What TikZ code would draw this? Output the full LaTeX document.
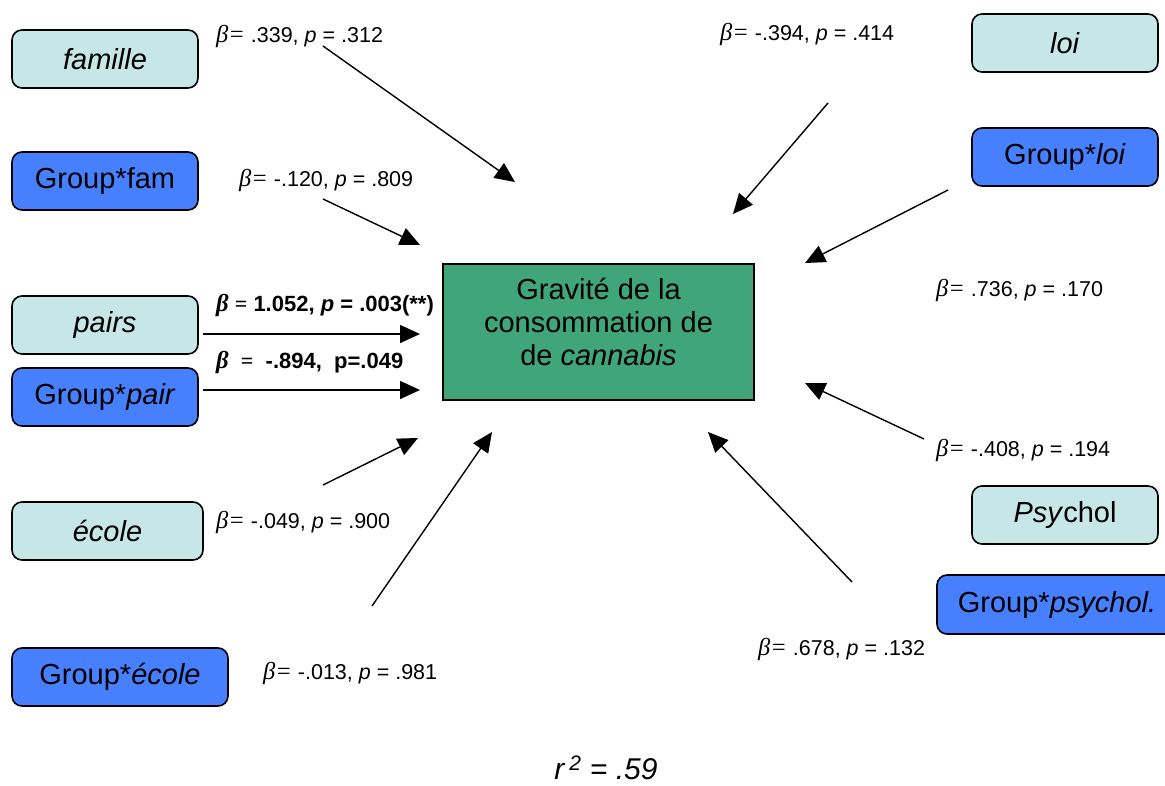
\documentclass[tikz,border=0pt]{standalone}
\usepackage{fontspec}
\setmainfont{Liberation Sans}
\newfontfamily\serifb{Liberation Serif}
\usetikzlibrary{arrows.meta}
\definecolor{lightbox}{RGB}{198,230,232}
\definecolor{bluebox}{RGB}{71,128,255}
\definecolor{greenbox}{RGB}{64,166,122}
\newcommand{\bet}{{\serifb\fontsize{24.5}{25}\selectfont\itshape β=}}
\newcommand{\betb}{{\serifb\fontsize{24.5}{25}\selectfont\bfseries\itshape β}}
\begin{document}
\begin{tikzpicture}[x=1pt,y=-1pt,
  varbox/.style={draw=black,line width=1.6pt,rounded corners=10pt,minimum height=58pt,inner sep=0pt,font=\fontsize{29}{34}\selectfont},
  lightv/.style={varbox,fill=lightbox},
  bluev/.style={varbox,fill=bluebox},
  coef/.style={anchor=west,inner sep=0pt,font=\fontsize{21.5}{25}\selectfont},
  coefb/.style={coef,font=\fontsize{22}{26}\selectfont\bfseries},
  arr/.style={line width=1.4pt,-{Triangle[length=20pt,width=18pt]}}
]
\useasboundingbox (0,0) rectangle (1165,785);
% variable boxes
\node[lightv,minimum width=186pt] (fam) at (105,59) {\textit{famille}};
\node[bluev,minimum width=186pt] (gfam) at (105,181) {Group*fam};
\node[lightv,minimum width=186pt] (pairs) at (105,325) {\textit{pairs}};
\node[bluev,minimum width=186pt] (gpair) at (105,397) {Group*\textit{pair}};
\node[lightv,minimum width=191pt] (ecole) at (107.5,531) {\textit{école}};
\node[bluev,minimum width=216pt] (gecole) at (120,677) {Group*\textit{école}};
\node[lightv,minimum width=186pt] (loi) at (1065,43) {\textit{loi}};
\node[bluev,minimum width=186pt] (gloi) at (1065,157) {Group*\textit{loi}};
\node[lightv,minimum width=186pt] (psy) at (1065,515) {\textit{Psy}chol};
\node[bluev,minimum width=240pt,minimum height=59pt] (gpsy) at (1057,604.5) {Group*\textit{psychol.}};
% central box
\node[draw=black,line width=1.6pt,fill=greenbox,minimum width=311pt,minimum height=136pt,inner sep=0pt] (dv) at (598.5,332) {};
\node[align=center,inner sep=0pt,font=\fontsize{29}{33}\selectfont] (dvtext) at (598.5,322) {Gravité de la\\consommation de\\de \textit{cannabis}};
% arrow coordinates
\coordinate (s1) at (323,46);  \coordinate (e1) at (515,182);
\coordinate (s2) at (323,199); \coordinate (e2) at (420,245);
\coordinate (s3) at (203,334); \coordinate (e3) at (420,334);
\coordinate (s4) at (203,390); \coordinate (e4) at (420,390);
\coordinate (s5) at (323,485); \coordinate (e5) at (418,438);
\coordinate (s6) at (372,606); \coordinate (e6) at (492,432);
\coordinate (s7) at (852,582); \coordinate (e7) at (708,432);
\coordinate (s8) at (924,439); \coordinate (e8) at (805,383);
\coordinate (s9) at (948,190); \coordinate (e9) at (805,263);
\coordinate (s10) at (828,103); \coordinate (e10) at (733,214);
\foreach \i in {1,...,10} {\draw[arr] (s\i) -- (e\i);}
% coefficients
\node[coef] (c1) at (216,36) {\bet\ .339, \textit{p} = .312};
\node[coef] (c2) at (239,180) {\bet\ -.120, \textit{p} = .809};
\node[coefb] (c3) at (216,305) {\betb\ {\serifb\bfseries =}\ 1.052, \textit{p} = .003(**)};
\node[coefb] (c4) at (216,362) {\betb\ \ {\serifb\bfseries =}\ \ -.894,\ \ p=.049};
\node[coef] (c5) at (216,522) {\bet\ -.049, \textit{p} = .900};
\node[coef] (c6) at (263,673) {\bet\ -.013, \textit{p} = .981};
\node[coef] (c7) at (720,34) {\bet\ -.394, \textit{p} = .414};
\node[coef] (c8) at (936,290) {\bet\ .736, \textit{p} = .170};
\node[coef] (c9) at (936,450) {\bet\ -.408, \textit{p} = .194};
\node[coef] (c10) at (758,649) {\bet\ .678, \textit{p} = .132};
% r squared
\node[inner sep=0pt,font=\fontsize{30}{34}\selectfont\itshape] (r2) at (606,768) {r\,\textsuperscript{2} = .59};
\end{tikzpicture}
\end{document}
